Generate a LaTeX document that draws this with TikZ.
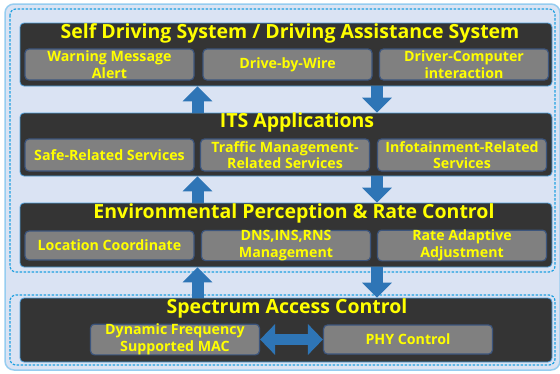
\documentclass[tikz,border=0pt]{standalone}
\usepackage{fontspec}
\setmainfont{Open Sans}
\usepackage{tikz}
\usetikzlibrary{arrows.meta}

\definecolor{bgfill}{RGB}{218,227,243}
\definecolor{rimblue}{RGB}{150,205,240}
\definecolor{dashblue}{RGB}{30,160,225}
\definecolor{panelgray}{RGB}{52,52,52}
\definecolor{panelrim}{RGB}{80,160,220}
\definecolor{itemgray}{RGB}{128,128,128}
\definecolor{itemrim}{RGB}{60,85,125}
\definecolor{arrowblue}{RGB}{46,117,182}
\definecolor{labelyellow}{RGB}{255,255,0}

\begin{document}
\begin{tikzpicture}[x=1pt,y=-1pt,
    panel/.style={rectangle,rounded corners=4pt,fill=panelgray,draw=panelrim,
      line width=0.8pt,minimum width=532pt,inner sep=0pt},
    item/.style={rectangle,rounded corners=4pt,fill=itemgray,draw=itemrim,
      line width=1.2pt,minimum width=169pt,inner sep=0pt,align=center,
      text=labelyellow,font=\fontsize{14.2}{16.5}\selectfont\bfseries},
    headline/.style={text=labelyellow,inner sep=0pt,
      font=\fontsize{19.5}{22}\selectfont\bfseries},
    blockarrow/.style={draw=arrowblue,line width=12pt,
      -{Triangle[width=29pt,length=15pt,fill=arrowblue]}},
    dblarrow/.style={draw=arrowblue,line width=11pt,
      {Triangle[width=30pt,length=15pt,fill=arrowblue]}-{Triangle[width=30pt,length=15pt,fill=arrowblue]}}]
  \useasboundingbox (0,0) rectangle (560,373);

  % frame and the two dashed groups
  \draw[rimblue,line width=1.5pt,fill=bgfill,rounded corners=9pt] (5,4) rectangle (560,370);
  \draw[dashblue,line width=1.2pt,dashed,dash pattern=on 2.5pt off 1.5pt,rounded corners=6pt]
    (10,9) rectangle (555,272);
  \draw[dashblue,line width=1.2pt,dashed,dash pattern=on 2.5pt off 1.5pt,rounded corners=6pt]
    (10,295) rectangle (555,365);

  % the four layers
  \node[panel,minimum height=63pt] (sds) at (286,54.5) {};
  \node[panel,minimum height=63pt] (its) at (286,144.5) {};
  \node[panel,minimum height=64pt] (epr) at (286,235) {};
  \node[panel,minimum height=64pt] (sac) at (286,330) {};

  \node[headline] (sdsTitle) at (290,33) {Self Driving System / Driving Assistance System};
  \node[headline] (itsTitle) at (297,122) {ITS Applications};
  \node[headline] (eprTitle) at (294,213) {Environmental Perception \& Rate Control};
  \node[headline] (sacTitle) at (287,308) {Spectrum Access Control};

  % layer contents
  \begin{scope}[every node/.style={item,minimum height=31pt}]
    \node (warn) at (109.5,64.5) {Warning Message\\Alert};
    \node (wire) at (287.5,64.5) {Drive-by-Wire};
    \node (dci)  at (464,64.5) {Driver-Computer\\interaction};
  \end{scope}
  \begin{scope}[every node/.style={item,minimum height=32pt}]
    \node (safe)    at (109.5,155) {Safe-Related Services};
    \node (traffic) at (285,155) {Traffic Management-\\Related Services};
    \node (info)    at (462,155) {Infotainment-Related\\Services};
  \end{scope}
  \begin{scope}[every node/.style={item,minimum height=29pt}]
    \node (loc)  at (109.5,245.5) {Location Coordinate};
    \node (dns)  at (286,245.5) {DNS,INS,RNS\\Management};
    \node (rate) at (462,245.5) {Rate Adaptive\\Adjustment};
    \node (mac)  at (175,339.5) {Dynamic Frequency\\Supported MAC};
    \node (phy)  at (408,339.5) {PHY Control};
  \end{scope}

  % flow between layers
  \draw[blockarrow] (its.north -| 197.5,0) -- (sds.south -| 197.5,0);
  \draw[blockarrow] (sds.south -| 377,0) -- (its.north -| 377,0);
  \draw[blockarrow] (epr.north -| 197.5,0) -- (its.south -| 197.5,0);
  \draw[blockarrow] (its.south -| 377,0) -- (epr.north -| 377,0);
  \draw[blockarrow] (sac.north -| 197.5,0) -- (epr.south -| 197.5,0);
  \draw[blockarrow] (epr.south -| 377,0) -- (sac.north -| 377,0);
  \draw[dblarrow] (mac.east) -- (phy.west);
\end{tikzpicture}
\end{document}
